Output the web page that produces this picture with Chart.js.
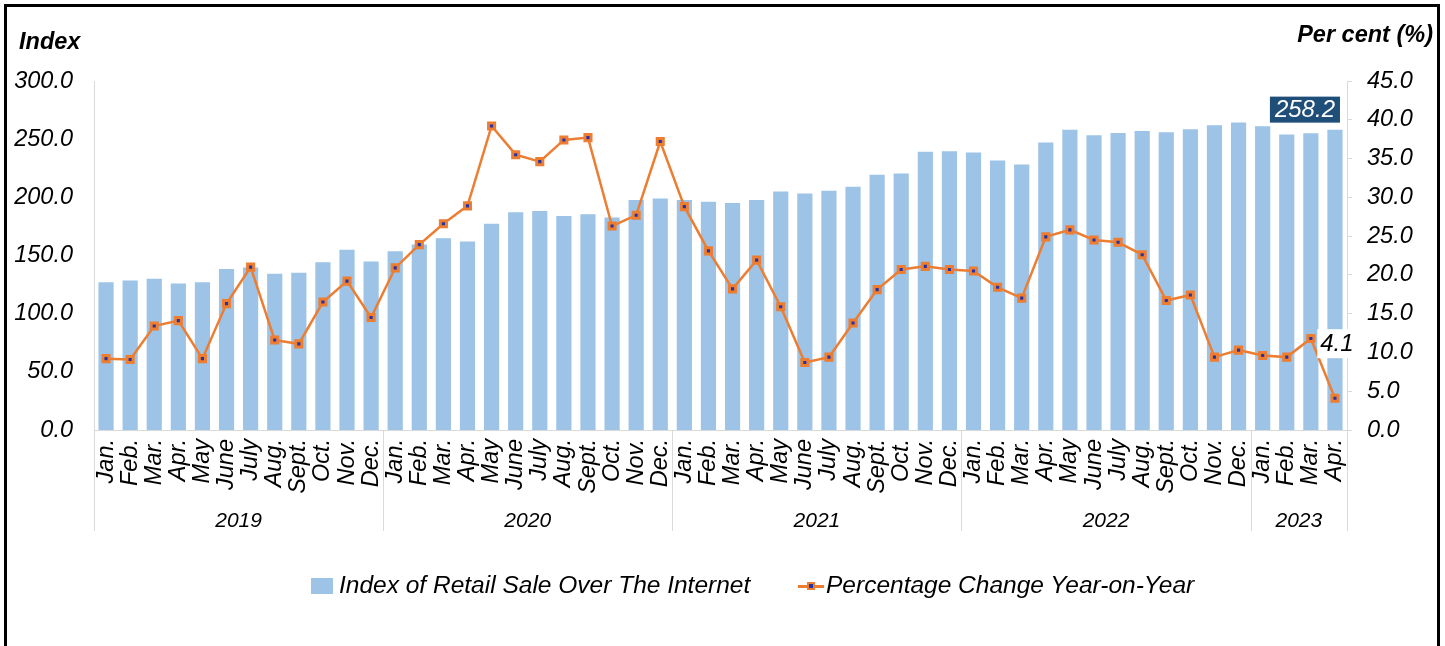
<!DOCTYPE html>
<html>
<head>
<meta charset="utf-8">
<script src="https://cdn.jsdelivr.net/npm/chart.js@4"></script>
<style>
  html, body { margin: 0; padding: 0; background: #fff; width: 1445px; height: 646px; overflow: hidden; }
  #frame { position: absolute; left: 4px; top: 4px; width: 1436px; height: 700px; box-sizing: border-box; border: 3px solid #000; }
  #c { position: absolute; left: 0; top: 0; }
  .t { position: absolute; font-family: "Liberation Sans", Arial, sans-serif; font-style: italic; color: #000; white-space: nowrap; }
  .ttl { font-weight: bold; }
  .leg { font-size: 24.5px; }
</style>
</head>
<body>
<div id="frame"></div>
<canvas id="c" width="1445" height="646"></canvas>
<div class="t ttl" style="left:19px; top:28px; font-size:23.5px;">Index</div>
<div class="t ttl" style="right:12px; top:21px; font-size:23.5px;">Per cent (%)</div>
<div style="position:absolute; left:311px; top:578px; width:22px; height:16px; background:#9DC3E6;"></div>
<div class="t leg" style="left:339px; top:571px;">Index of Retail Sale Over The Internet</div>
<div style="position:absolute; left:798px; top:585px; width:26px; height:3px; background:#ED7D31;"></div>
<div style="position:absolute; left:807px; top:582px; width:4px; height:4px; border:2.5px solid #ED7D31; background:#2233AA;"></div>
<div class="t leg" style="left:826px; top:571px;">Percentage Change Year-on-Year</div>
<script>
const monthNames = ['Jan.','Feb.','Mar.','Apr.','May','June','July','Aug.','Sept.','Oct.','Nov.','Dec.'];
const years = ['2019','2020','2021','2022','2023'];
const monthsPerYear = [12,12,12,12,4];

const indexValues = [
  127.1, 128.6, 130.0, 126.0, 127.0, 138.3, 139.7, 134.3, 135.1, 144.3, 154.9, 144.9,
  153.7, 159.4, 164.8, 162.0, 177.2, 187.1, 188.3, 184.0, 185.4, 182.6, 197.7, 198.9,
  197.7, 196.3, 195.1, 197.7, 205.1, 203.4, 205.7, 209.1, 219.4, 220.5, 239.1, 239.7,
  238.5, 231.7, 228.3, 247.1, 258.0, 253.4, 255.4, 257.1, 256.0, 258.6, 262.0, 264.3,
  261.1, 254.0, 255.1, 258.2
];
const pctValues = [
  9.2, 9.1, 13.4, 14.1, 9.2, 16.3, 21.0, 11.6, 11.1, 16.5, 19.2, 14.5,
  20.9, 23.9, 26.6, 28.9, 39.2, 35.5, 34.6, 37.4, 37.7, 26.3, 27.7, 37.2,
  28.8, 23.1, 18.2, 21.9, 15.9, 8.7, 9.4, 13.8, 18.1, 20.7, 21.1, 20.7,
  20.5, 18.4, 17.0, 24.9, 25.8, 24.5, 24.2, 22.6, 16.7, 17.4, 9.4, 10.3,
  9.6, 9.4, 11.8, 4.1
];
const leftTicks = { min: 0, max: 300, step: 50 };
const rightTicks = { min: 0, max: 45, step: 5 };

const labels = [];
monthsPerYear.forEach(n => { for (let i = 0; i < n; i++) labels.push(monthNames[i]); });

const FONT = '"Liberation Sans", Arial, sans-serif';
const AREA = { left: 94, top: 81, right: 1347, bottom: 430 };

const yearPlugin = {
  id: 'years',
  afterDraw(chart) {
    const ctx = chart.ctx;
    const x = chart.scales.x;
    const half = (x.getPixelForValue(1) - x.getPixelForValue(0)) / 2;
    ctx.save();
    ctx.strokeStyle = '#d9d9d9';
    ctx.lineWidth = 1;
    let idx = 0;
    const bounds = [x.getPixelForValue(0) - half];
    monthsPerYear.forEach(n => { idx += n; bounds.push(x.getPixelForValue(idx - 1) + half); });
    bounds.forEach(b => {
      const bx = Math.round(b) + 0.5;
      ctx.beginPath(); ctx.moveTo(bx, AREA.bottom); ctx.lineTo(bx, 531); ctx.stroke();
    });
    ctx.fillStyle = '#000';
    ctx.font = 'italic 21px ' + FONT;
    ctx.textAlign = 'center';
    ctx.textBaseline = 'middle';
    years.forEach((yr, i) => {
      ctx.fillText(yr, (bounds[i] + bounds[i + 1]) / 2, 521);
    });
    ctx.restore();
  }
};

const labelPlugin = {
  id: 'valueLabels',
  afterDatasetsDraw(chart) {
    const ctx = chart.ctx;
    const last = indexValues.length - 1;
    const bar = chart.getDatasetMeta(0).data[last];
    const pt = chart.getDatasetMeta(1).data[last];
    ctx.save();
    ctx.font = 'italic 24px ' + FONT;
    ctx.textBaseline = 'middle';
    ctx.textAlign = 'center';
    const t1 = indexValues[last].toFixed(1);
    const w1 = ctx.measureText(t1).width + 10;
    const cx1 = bar.x - 30, cy1 = bar.y - 20;
    ctx.fillStyle = '#1F4E79';
    ctx.fillRect(cx1 - w1 / 2, cy1 - 13, w1, 26);
    ctx.fillStyle = '#fff';
    ctx.fillText(t1, cx1, cy1 + 1);
    const t2 = pctValues[last].toFixed(1);
    const w2 = ctx.measureText(t2).width + 6;
    const cx2 = pt.x + 2, cy2 = pt.y - 55;
    ctx.fillStyle = '#fff';
    ctx.fillRect(cx2 - w2 / 2, cy2 - 14, w2, 29);
    ctx.fillStyle = '#000';
    ctx.fillText(t2, cx2, cy2 + 1);
    ctx.restore();
  }
};

new Chart(document.getElementById('c'), {
  data: {
    labels: labels,
    datasets: [
      {
        type: 'bar',
        label: 'Index of Retail Sale Over The Internet',
        data: indexValues,
        yAxisID: 'y',
        backgroundColor: '#9DC3E6',
        borderWidth: 0,
        barPercentage: 0.63,
        categoryPercentage: 1.0,
        order: 2
      },
      {
        type: 'line',
        label: 'Percentage Change Year-on-Year',
        data: pctValues,
        yAxisID: 'y1',
        borderColor: '#ED7D31',
        borderWidth: 2.5,
        tension: 0,
        pointStyle: 'rect',
        pointRadius: 4.3,
        pointBorderWidth: 3,
        pointBackgroundColor: '#2233AA',
        pointBorderColor: '#ED7D31',
        order: 1
      }
    ]
  },
  options: {
    responsive: false,
    animation: false,
    events: [],
    layout: { padding: { left: 0, right: 0, top: AREA.top, bottom: 0 } },
    plugins: { legend: { display: false }, tooltip: { enabled: false } },
    scales: {
      x: {
        offset: true,
        grid: { display: false },
        border: { display: true, color: '#d9d9d9', width: 1 },
        ticks: {
          autoSkip: false, maxRotation: 90, minRotation: 90, padding: 1,
          color: '#000', font: { family: FONT, style: 'italic', size: 23.5 }
        },
        afterFit(s) { s.height = 646 - AREA.bottom; }
      },
      y: {
        position: 'left',
        min: leftTicks.min, max: leftTicks.max,
        grid: { display: false },
        border: { display: true, color: '#d9d9d9', width: 1 },
        ticks: {
          stepSize: leftTicks.step, padding: 13, color: '#000',
          font: { family: FONT, style: 'italic', size: 23.5 },
          callback: v => Number(v).toFixed(1)
        },
        afterFit(s) { s.width = AREA.left; }
      },
      y1: {
        position: 'right',
        min: rightTicks.min, max: rightTicks.max,
        grid: { display: true, drawOnChartArea: false, drawTicks: true, tickLength: 5, color: '#d9d9d9' },
        border: { display: true, color: '#d9d9d9', width: 1 },
        ticks: {
          stepSize: rightTicks.step, padding: 15, color: '#000',
          font: { family: FONT, style: 'italic', size: 23.5 },
          callback: v => Number(v).toFixed(1)
        },
        afterFit(s) { s.width = 1445 - AREA.right; }
      }
    }
  },
  plugins: [yearPlugin, labelPlugin]
});
</script>
</body>
</html>
